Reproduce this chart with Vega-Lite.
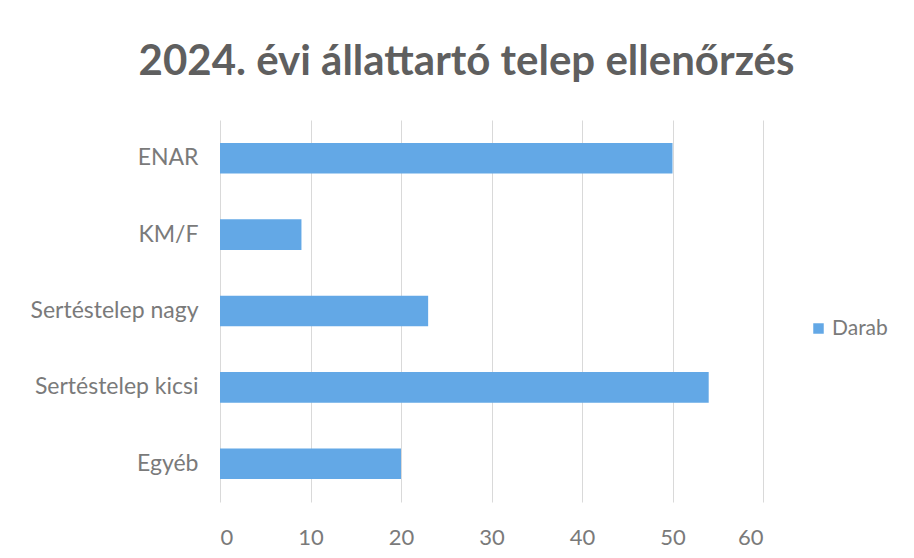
{
  "$schema": "https://vega.github.io/schema/vega-lite/v6.json",
  "width": 543,
  "height": 382,
  "autosize": {"type": "none"},
  "padding": {"left": 220, "top": 120, "right": 151, "bottom": 56},
  "background": "white",
  "title": {
    "text": "2024. évi állattartó telep ellenőrzés",
    "font": "Lato",
    "fontSize": 42,
    "fontWeight": "bold",
    "color": "#5f5f5f",
    "anchor": "middle",
    "baseline": "bottom",
    "offset": -6,
    "dx": -25
  },
  "data": {
    "values": [
      {"kategoria": "ENAR", "darab": 50, "sorozat": "Darab"},
      {"kategoria": "KM/F", "darab": 9, "sorozat": "Darab"},
      {"kategoria": "Sertéstelep nagy", "darab": 23, "sorozat": "Darab"},
      {"kategoria": "Sertéstelep kicsi", "darab": 54, "sorozat": "Darab"},
      {"kategoria": "Egyéb", "darab": 20, "sorozat": "Darab"}
    ]
  },
  "mark": {"type": "bar"},
  "encoding": {
    "y": {
      "field": "kategoria",
      "type": "nominal",
      "sort": null,
      "scale": {"paddingInner": 0.6, "paddingOuter": 0.3},
      "axis": {
        "title": null,
        "domain": false,
        "ticks": false,
        "labelFont": "Lato",
        "labelFontSize": 23,
        "labelColor": "#7a7a7a",
        "labelPadding": 22
      }
    },
    "x": {
      "field": "darab",
      "type": "quantitative",
      "scale": {"domain": [0, 60]},
      "axis": {
        "title": null,
        "values": [0, 10, 20, 30, 40, 50, 60],
        "domain": false,
        "ticks": false,
        "grid": true,
        "gridColor": "#d9d9d9",
        "labelFont": "Lato",
        "labelFontSize": 22,
        "labelColor": "#7a7a7a",
        "labelPadding": 25
      }
    },
    "color": {
      "field": "sorozat",
      "type": "nominal",
      "scale": {"range": ["#63a8e6"]},
      "legend": {
        "title": null,
        "orient": "none",
        "legendX": 588,
        "legendY": 198,
        "symbolType": "square",
        "symbolSize": 110,
        "labelOffset": 3,
        "labelFont": "Lato",
        "labelFontSize": 21,
        "labelColor": "#7a7a7a"
      }
    }
  },
  "config": {
    "view": {"stroke": null}
  }
}
